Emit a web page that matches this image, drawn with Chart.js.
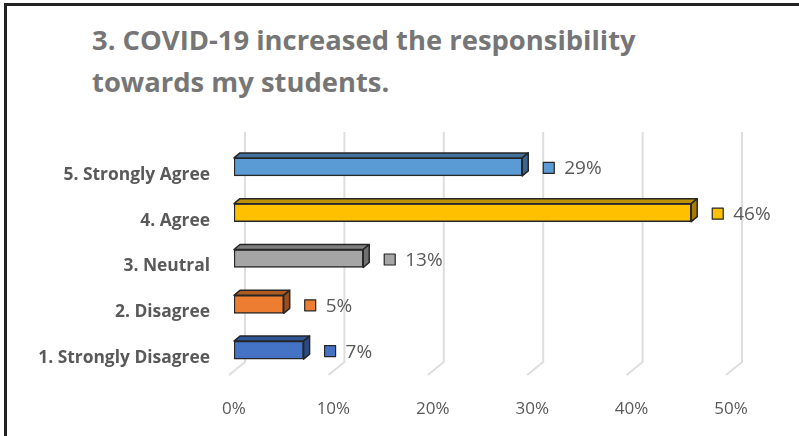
<!DOCTYPE html>
<html>
<head>
<meta charset="utf-8">
<script src="https://cdn.jsdelivr.net/npm/chart.js@4"></script>
<style>
  html, body { margin: 0; padding: 0; background: #fff; }
  #wrap { position: relative; width: 799px; height: 436px; overflow: hidden; }
  #frame {
    position: absolute; left: 4px; top: 3px; width: 820px; height: 460px;
    border-left: 3px solid #222; border-top: 3px solid #222;
  }
  #title {
    position: absolute; left: 92px; top: 19px;
    font-family: "Open Sans", sans-serif; font-weight: bold; font-size: 27.4px;
    line-height: 42px; color: #767676; white-space: nowrap;
  }
  canvas { position: absolute; left: 0; top: 0; }
</style>
</head>
<body>
<div id="wrap">
  <div id="frame"></div>
  <div id="title">3. COVID-19 increased the responsibility<br>towards my students.</div>
  <canvas id="chart" width="799" height="436"></canvas>
</div>
<script>
// answers, top row first
const categories = ['5. Strongly Agree', '4. Agree', '3. Neutral', '2. Disagree', '1. Strongly Disagree'];
const shares = [29, 46, 13, 5, 7];
const axisMax = 50;
const axisStep = 10;

// face colours for each bar: front, top, side
const frontColors = ['#5b9bd5', '#ffc000', '#a5a5a5', '#ed7d31', '#4472c4'];
const topColors = ['#41719c', '#bf9000', '#7f7f7f', '#b05a20', '#2f5597'];
const sideColors = ['#3a6690', '#a67c00', '#6f6f6f', '#9a4f1c', '#284a85'];
const edgeColor = '#262626';
const textColor = '#595959';
const depth = 6;

// back-wall gridlines with a short slant onto the floor
const wallGrid = {
  id: 'wallGrid',
  beforeDatasetsDraw(chart) {
    const { ctx, chartArea, scales } = chart;
    const xs = scales.x;
    ctx.save();
    ctx.strokeStyle = '#dedede';
    ctx.lineWidth = 2;
    for (let v = 0; v <= axisMax; v += axisStep) {
      const px = xs.getPixelForValue(v) + 11;
      ctx.beginPath();
      ctx.moveTo(px, chartArea.top - 12);
      ctx.lineTo(px, chartArea.bottom - 11);
      ctx.lineTo(px - 16, chartArea.bottom + 2);
      ctx.stroke();
    }
    ctx.restore();
  }
};

// top and side faces so each bar reads as a block
const blockFaces = {
  id: 'blockFaces',
  afterDatasetsDraw(chart) {
    const { ctx } = chart;
    const meta = chart.getDatasetMeta(0);
    ctx.save();
    ctx.lineWidth = 1.5;
    ctx.strokeStyle = edgeColor;
    ctx.lineJoin = 'round';
    meta.data.forEach((bar, i) => {
      const p = bar.getProps(['x', 'y', 'base', 'height'], true);
      const top = p.y - p.height / 2;
      const bottom = p.y + p.height / 2;
      const dv = depth - 1;
      // top face
      ctx.beginPath();
      ctx.moveTo(p.base, top);
      ctx.lineTo(p.base + depth, top - dv);
      ctx.lineTo(p.x + depth, top - dv);
      ctx.lineTo(p.x, top);
      ctx.closePath();
      ctx.fillStyle = topColors[i];
      ctx.fill();
      ctx.stroke();
      // side face
      ctx.beginPath();
      ctx.moveTo(p.x, top);
      ctx.lineTo(p.x + depth, top - dv);
      ctx.lineTo(p.x + depth, bottom - dv);
      ctx.lineTo(p.x, bottom);
      ctx.closePath();
      ctx.fillStyle = sideColors[i];
      ctx.fill();
      ctx.stroke();

      // value label with a small colour key
      const kx = p.x + depth + 15;
      const ky = p.y + 1;
      ctx.fillStyle = frontColors[i];
      ctx.fillRect(kx, ky - 5.5, 11, 11);
      ctx.lineWidth = 1.2;
      ctx.strokeRect(kx, ky - 5.5, 11, 11);
      ctx.lineWidth = 1.5;
      ctx.fillStyle = textColor;
      ctx.font = '19px "Open Sans", sans-serif';
      ctx.textBaseline = 'middle';
      ctx.textAlign = 'left';
      ctx.fillText(shares[i] + '%', kx + 21, ky + 1);
    });
    ctx.restore();
  }
};

new Chart(document.getElementById('chart'), {
  type: 'bar',
  data: {
    labels: categories,
    datasets: [{
      data: shares,
      backgroundColor: frontColors,
      borderColor: edgeColor,
      borderWidth: 1.5,
      borderSkipped: false,
      barThickness: 18
    }]
  },
  options: {
    indexAxis: 'y',
    responsive: false,
    animation: false,
    layout: { padding: { top: 144, right: 68, bottom: 0, left: 0 } },
    plugins: {
      legend: { display: false },
      tooltip: { enabled: false }
    },
    scales: {
      x: {
        min: 0,
        max: axisMax,
        border: { display: false },
        grid: { display: false },
        afterFit: s => { s.height = 63; },
        ticks: {
          stepSize: axisStep,
          padding: 18,
          color: textColor,
          font: { family: '"Open Sans", sans-serif', size: 17 },
          callback: v => v + '%'
        }
      },
      y: {
        border: { display: false },
        grid: { display: false },
        afterFit: s => { s.width = 234; },
        ticks: {
          padding: 16,
          labelOffset: 8,
          color: textColor,
          font: { family: '"Open Sans", sans-serif', size: 17.4, weight: 'bold' }
        }
      }
    }
  },
  plugins: [wallGrid, blockFaces]
});
</script>
</body>
</html>
